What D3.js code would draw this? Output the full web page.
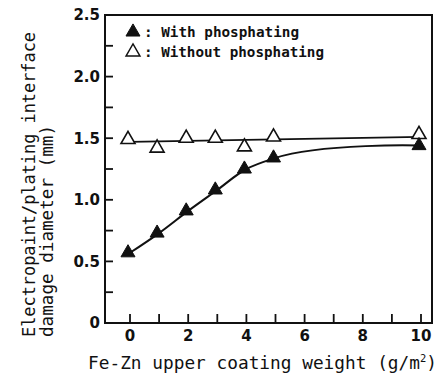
<!DOCTYPE html>
<html>
<head>
<meta charset="utf-8">
<script src="https://cdn.jsdelivr.net/npm/d3@7.9.0/dist/d3.min.js"></script>
<style>
  body { margin: 0; background: #fff; }
  svg { display: block; }
  .tick-label { font-family: "DejaVu Sans", sans-serif; font-weight: bold; font-size: 15px; fill: #111; }
  .title { font-family: "DejaVu Sans Mono", monospace; font-size: 17px; fill: #111; }
  .legend { font-family: "DejaVu Sans Mono", monospace; font-size: 14px; font-weight: bold; fill: #111; }
</style>
</head>
<body>
<svg id="chart" width="440" height="376"></svg>
<script>
// coating weight (g/m2)
const weights = [0, 1, 2, 3, 4, 5, 10];
// damage diameter (mm)
const withPhos = [0.57, 0.73, 0.91, 1.08, 1.25, 1.34, 1.44];
const withoutPhos = [1.49, 1.42, 1.50, 1.50, 1.43, 1.51, 1.53];
// straight trend line for the untreated series
const flatLineX = [0, 10];
const flatLineY = [1.47, 1.51];

const xTickLabels = [0, 2, 4, 6, 8, 10];
const yTickLabels = ['0', '0.5', '1.0', '1.5', '2.0', '2.5'];
const yTickValues = [0, 0.5, 1.0, 1.5, 2.0, 2.5];

const svg = d3.select('#chart');

// plot frame
const frame = { left: 105, right: 432, top: 15, bottom: 323 };

const x = d3.scaleLinear().domain([0, 10]).range([130, 421]);
const y = d3.scaleLinear().domain([0, 2.5]).range([frame.bottom, frame.top]);

svg.append('rect')
  .attr('x', frame.left).attr('y', frame.top)
  .attr('width', frame.right - frame.left).attr('height', frame.bottom - frame.top)
  .attr('fill', 'none').attr('stroke', '#111').attr('stroke-width', 2);

// y ticks, inward, every 0.25
d3.range(0, 2.51, 0.25).forEach(v => {
  svg.append('line')
    .attr('x1', frame.left).attr('x2', frame.left + 8)
    .attr('y1', y(v)).attr('y2', y(v))
    .attr('stroke', '#111').attr('stroke-width', 1.8);
});

yTickValues.forEach((v, i) => {
  svg.append('text')
    .attr('class', 'tick-label')
    .attr('x', 100).attr('y', y(v))
    .attr('dy', '0.36em')
    .attr('text-anchor', 'end')
    .text(yTickLabels[i]);
});

// x ticks, inward, every 1
d3.range(0, 11).forEach(v => {
  svg.append('line')
    .attr('x1', x(v)).attr('x2', x(v))
    .attr('y1', frame.bottom).attr('y2', frame.bottom - 9)
    .attr('stroke', '#111').attr('stroke-width', 1.8);
});

xTickLabels.forEach(v => {
  svg.append('text')
    .attr('class', 'tick-label')
    .attr('x', x(v)).attr('y', frame.bottom + 18)
    .attr('text-anchor', 'middle')
    .text(v);
});

// axis titles
svg.append('text')
  .attr('class', 'title')
  .attr('x', 88).attr('y', 369)
  .attr('textLength', 349)
  .attr('lengthAdjust', 'spacingAndGlyphs')
  .html('Fe-Zn upper coating weight (g/m<tspan dy="-7" font-size="10">2</tspan><tspan dy="7">)</tspan>');

svg.append('text')
  .attr('class', 'title')
  .attr('transform', 'translate(35,337) rotate(-90)')
  .attr('textLength', 305)
  .attr('lengthAdjust', 'spacingAndGlyphs')
  .text('Electropaint/plating interface');

svg.append('text')
  .attr('class', 'title')
  .attr('transform', 'translate(53,337) rotate(-90)')
  .attr('textLength', 212)
  .attr('lengthAdjust', 'spacingAndGlyphs')
  .text('damage diameter (mm)');

// lines
const curve = d3.line()
  .x((d, i) => x(weights[i]))
  .y(d => y(d))
  .curve(d3.curveCatmullRom.alpha(1));

svg.append('path')
  .attr('d', curve(withPhos))
  .attr('fill', 'none').attr('stroke', '#111').attr('stroke-width', 2);

const straight = d3.line()
  .x((d, i) => x(flatLineX[i]))
  .y(d => y(d));

svg.append('path')
  .attr('d', straight(flatLineY))
  .attr('fill', 'none').attr('stroke', '#111').attr('stroke-width', 1.8);

// markers
const tri = d3.symbol().type(d3.symbolTriangle).size(85);

withoutPhos.forEach((v, i) => {
  svg.append('path')
    .attr('d', tri())
    .attr('transform', `translate(${x(weights[i]) - 2},${y(v)})`)
    .attr('fill', '#fff').attr('stroke', '#111').attr('stroke-width', 1.6);
});

withPhos.forEach((v, i) => {
  svg.append('path')
    .attr('d', tri())
    .attr('transform', `translate(${x(weights[i]) - 2},${y(v)})`)
    .attr('fill', '#111').attr('stroke', '#111').attr('stroke-width', 1);
});

// legend
const legendItems = [
  { label: ': With phosphating', fill: '#111', width: 155 },
  { label: ': Without phosphating', fill: '#fff', width: 180 }
];
legendItems.forEach((d, i) => {
  const ly = 32 + i * 20;
  svg.append('path')
    .attr('d', tri())
    .attr('transform', `translate(133,${ly})`)
    .attr('fill', d.fill).attr('stroke', '#111').attr('stroke-width', d.fill === '#fff' ? 1.4 : 1);
  svg.append('text')
    .attr('class', 'legend')
    .attr('x', 144).attr('y', ly + 5)
    .attr('textLength', d.width)
    .attr('lengthAdjust', 'spacingAndGlyphs')
    .text(d.label);
});
</script>
</body>
</html>
